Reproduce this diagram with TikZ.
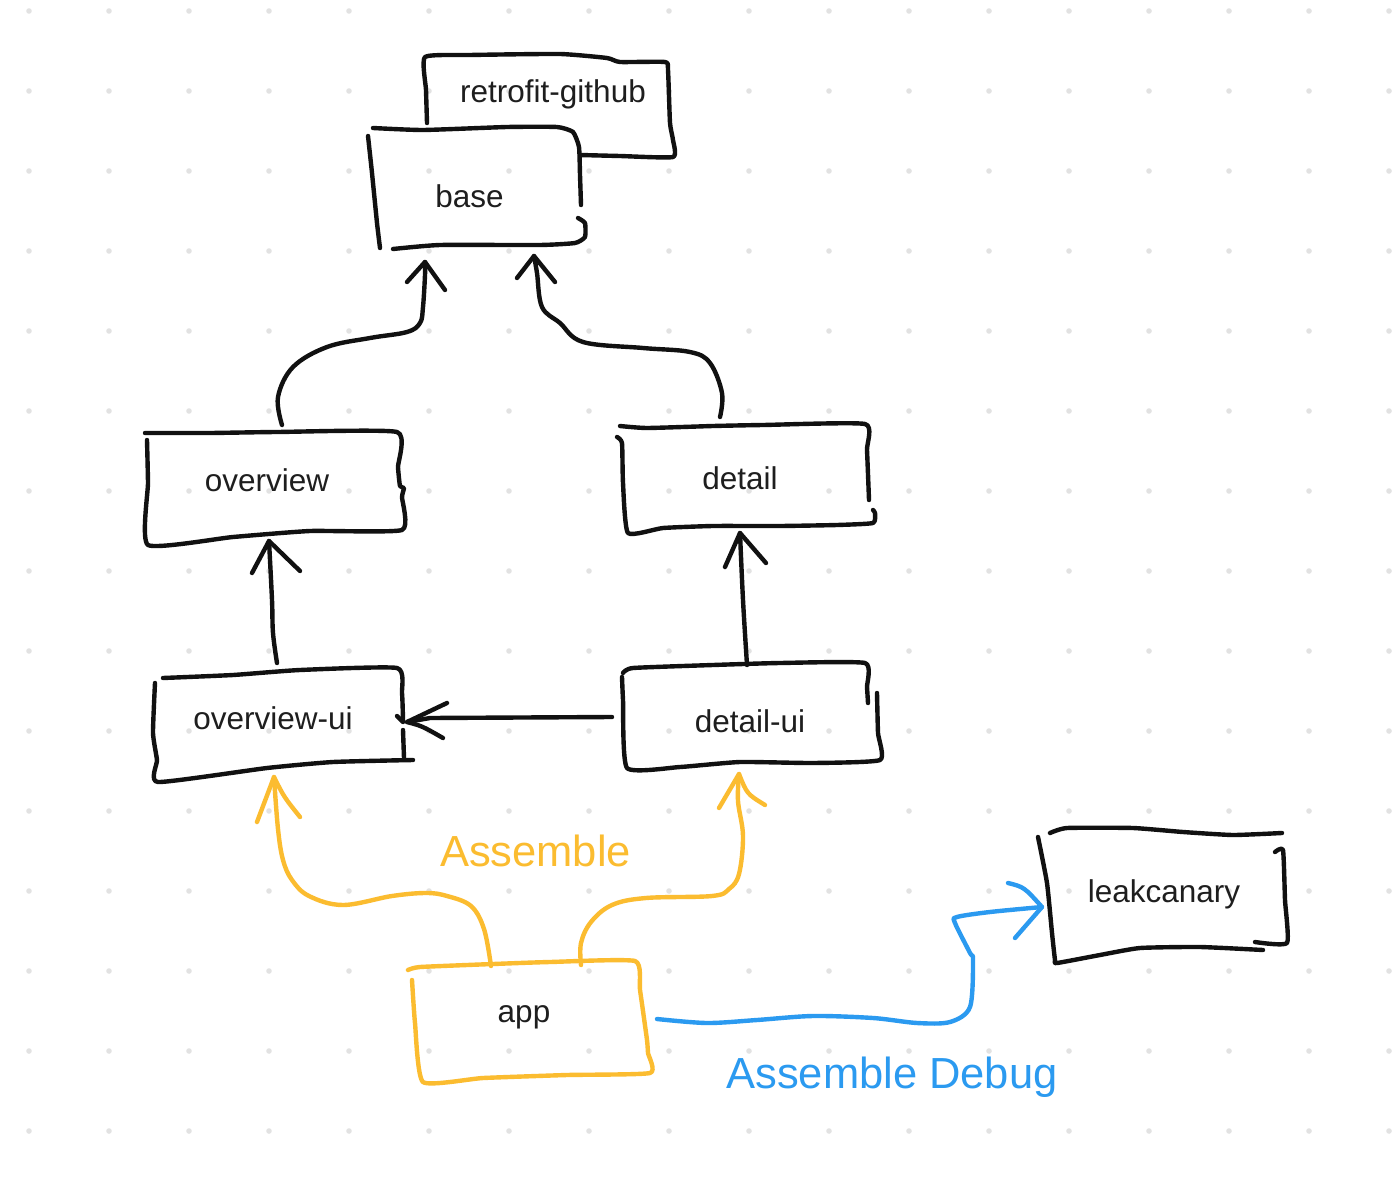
\documentclass[tikz,border=0pt]{standalone}
\usepackage{fontspec}
\setmainfont{Liberation Sans}
\usetikzlibrary{calc}
\definecolor{ink}{HTML}{111111}
\definecolor{txt}{HTML}{1E1E1E}
\definecolor{gold}{HTML}{FBBC30}
\definecolor{sky}{HTML}{2B9AF0}
\definecolor{dotc}{HTML}{E2E2E2}
\begin{document}
\begin{tikzpicture}[x=1pt,y=-1pt,
  hand/.style={line width=4.4pt, line cap=round, line join=round, draw=ink},
  goldhand/.style={hand, draw=gold},
  conn/.style={hand},
  goldconn/.style={hand, draw=gold},
  skyconn/.style={hand, draw=sky},
  boxn/.style={shape=rectangle, inner sep=0pt, outer sep=0pt},
  lbl/.style={text=txt, font=\fontsize{31.5}{36}\selectfont, inner sep=0pt, anchor=base},
  biglbl/.style={font=\fontsize{43.5}{50}\selectfont, inner sep=0pt, anchor=base}
]
\useasboundingbox (0,0) rectangle (1392,1196);
\fill[white] (0,0) rectangle (1392,1196);
\foreach \i in {0,...,17}{\foreach \j in {0,...,14}{\fill[dotc] (29+80*\i,11+80*\j) circle (2.8);}}

% box nodes
\node[boxn, minimum width=244pt, minimum height=100pt] (rg) at (548,107) {};
\node[boxn, minimum width=212pt, minimum height=120pt] (base) at (476,188) {};
\node[boxn, minimum width=254pt, minimum height=112pt] (ov) at (274,489) {};
\node[boxn, minimum width=252pt, minimum height=106pt] (det) at (746,478) {};
\node[boxn, minimum width=250pt, minimum height=110pt] (ovu) at (280,725) {};
\node[boxn, minimum width=254pt, minimum height=102pt] (detu) at (751,716) {};
\node[boxn, minimum width=240pt, minimum height=116pt] (app) at (530,1020) {};
\node[boxn, minimum width=240pt, minimum height=122pt] (leak) at (1165,894) {};

% labels
\node[lbl] (rgt) at (553,103) {retrofit-github};
\node[lbl] (baset) at (469.5,207) {base};
\node[lbl] (ovt) at (267,491) {overview};
\node[lbl] (dett) at (740,489) {detail};
\node[lbl] (ovut) at (273,729) {overview-ui};
\node[lbl] (detut) at (750,732) {detail-ui};
\node[lbl] (appt) at (524,1022) {app};
\node[lbl] (leakt) at (1164,902) {leakcanary};
\node[biglbl, text=gold] (asm) at (535.5,866) {Assemble};
\node[biglbl, text=sky] (asmd) at (892,1088) {Assemble Debug};

% hand drawn outlines
% retrofit-github
\draw[hand] plot[smooth,tension=0.3] coordinates {(427,123) (426,90) (425,57) (470,55) (560,54) (607,58) (620,62) (665,62) (668,70) (670,123) (673,140) (673,157) (620,156) (580,155)};
% base
\draw[hand] plot[smooth,tension=0.3] coordinates {(368,136) (372,173) (377,223) (380,248)};
\draw[hand] plot[smooth,tension=0.3] coordinates {(373,128) (423,130) (507,127) (557,127) (573,132) (579,147) (580,175) (581,205)};
\draw[hand] plot[smooth,tension=0.3] coordinates {(578,218) (585,223) (585,237) (575,243) (540,245) (440,245) (393,249)};
% overview
\draw[hand] plot[smooth,tension=0.3] coordinates {(147,440) (148,483) (148,545) (233,537) (310,531) (402,530) (402,497) (404,488) (400,486) (398,467) (397,432) (277,432) (210,433) (145,433)};
% overview-ui
\draw[hand] plot[smooth,tension=0.3] coordinates {(163,678) (233,675) (300,670) (397,668) (402,693) (403,720)};
\draw[hand] (397,716) -- (403,722);
\draw[hand] plot[smooth,tension=0.3] coordinates {(403,730) (404,758)};
\draw[hand] plot[smooth,tension=0.3] coordinates {(413,760) (333,762) (267,768) (158,782) (157,760) (153,733) (155,683)};
% detail
\draw[hand] plot[smooth,tension=0.3] coordinates {(617,437) (622,443) (623,483) (628,533) (663,528) (713,526) (780,526) (837,525) (873,523) (875,513) (873,510)};
\draw[hand] plot[smooth,tension=0.3] coordinates {(620,426) (647,428) (713,426) (763,425) (865,424) (867,450) (869,500)};
% detail-ui
\draw[hand] plot[smooth,tension=0.3] coordinates {(623,673) (633,668) (713,665) (780,663) (865,663) (867,687) (868,703)};
\draw[hand] plot[smooth,tension=0.3] coordinates {(877,693) (878,733) (880,760) (813,763) (740,762) (680,767) (627,768) (623,700) (622,677)};
% app
\draw[goldhand] plot[smooth,tension=0.3] coordinates {(408,970) (420,967) (493,964) (550,962) (635,961) (640,990) (647,1040) (648,1053) (650,1073) (567,1075) (483,1078) (423,1082) (415,1023) (412,980)};
% leakcanary
\draw[hand] plot[smooth,tension=0.3] coordinates {(1050,833) (1067,828) (1133,828) (1183,832) (1233,835) (1282,833)};
\draw[hand] plot[smooth,tension=0.3] coordinates {(1275,852) (1283,850) (1285,900) (1287,943) (1255,942)};
\draw[hand] plot[smooth,tension=0.3] coordinates {(1038,837) (1047,883) (1052,933) (1055,960) (1057,963) (1100,955) (1140,948) (1200,947) (1263,950)};

% connectors
% overview -> base
\coordinate (a1) at ($(ov.north)+(8,-8)$);
\coordinate (a2) at ($(base.south)+(-51,14)$);
\draw[conn] plot[smooth,tension=0.6] coordinates {(a1) (278,397) (293,367) (327,347) (370,338) (407,332) (420,323) (423,307) (425,275) (a2)};
\draw[conn] ($(a2)+(-18,20)$) -- (a2) -- ($(a2)+(20,28)$);
% detail -> base
\coordinate (b1) at ($(det.north)+(-26,-8)$);
\coordinate (b2) at ($(base.south)+(58,8)$);
\draw[conn] plot[smooth,tension=0.6] coordinates {(b1) (722,393) (710,363) (690,352) (643,348) (583,342) (560,323) (542,307) (537,273) (b2)};
\draw[conn] ($(b2)+(-17,22)$) -- (b2) -- ($(b2)+(21,26)$);
% overview-ui -> overview
\coordinate (c1) at ($(ovu.north)+(-3,-7)$);
\coordinate (c2) at ($(ov.south)+(-5,-4)$);
\draw[conn] plot[smooth,tension=0.6] coordinates {(c1) (273,633) (272,600) (c2)};
\draw[conn] ($(c2)+(-17,32)$) -- (c2) -- ($(c2)+(31,30)$);
% detail-ui -> detail
\coordinate (d1) at ($(detu.north)+(-4,0)$);
\coordinate (d2) at ($(det.south)+(-6,2)$);
\draw[conn] plot[smooth,tension=0.6] coordinates {(d1) (743,600) (d2)};
\draw[conn] ($(d2)+(-15,34)$) -- (d2) -- ($(d2)+(26,30)$);
% detail-ui -> overview-ui
\coordinate (e1) at ($(detu.west)+(-12,1)$);
\coordinate (e2) at ($(ovu.east)+(2,-3)$);
\draw[conn] (e1) -- (430,718) -- (e2);
\draw[conn] ($(e2)+(40,-19)$) -- (e2) .. controls ($(e2)+(15,4)$) .. ($(e2)+(36,16)$);
% app -> overview-ui
\coordinate (f1) at ($(app.north)+(-39,4)$);
\coordinate (f2) at ($(ovu.south)+(-6,-3)$);
\draw[goldconn] plot[smooth,tension=0.6] coordinates {(f1) (484,929) (471,906) (447,896) (426,893) (392,896) (343,905) (309,896) (292,880) (283,860) (278,829) (f2)};
\draw[goldconn] ($(f2)+(-17,45)$) -- (f2) .. controls ($(f2)+(10,20)$) .. ($(f2)+(26,40)$);
% app -> detail-ui
\coordinate (g1) at ($(app.north)+(51,3)$);
\coordinate (g2) at ($(detu.south)+(-12,7)$);
\draw[goldconn] plot[smooth,tension=0.6] coordinates {(g1) (581,943) (591,922) (612,905) (646,898) (712,896) (729,889) (739,874) (743,836) (738,801) (g2)};
\draw[goldconn] ($(g2)+(-20,34)$) -- (g2) .. controls ($(g2)+(8,20)$) .. ($(g2)+(26,31)$);
% app -> leakcanary
\coordinate (h1) at ($(app.east)+(7,-1)$);
\coordinate (h2) at ($(leak.west)+(-3,13)$);
\draw[skyconn] plot[smooth,tension=0.5] coordinates {(h1) (707,1023) (757,1020) (813,1016) (873,1018) (917,1023) (950,1022) (970,1007) (973,960) (970,953) (955,923) (957,917) (990,912) (h2)};
\draw[skyconn] ($(h2)+(-34,-24)$) .. controls ($(h2)+(-18,-20)$) .. (h2) -- ($(h2)+(-27,31)$);
\end{tikzpicture}
\end{document}
